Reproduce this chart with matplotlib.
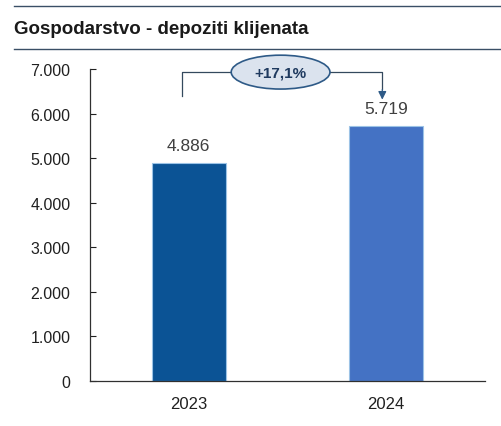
import numpy as np
import matplotlib.pyplot as plt
from matplotlib.patches import Ellipse
from matplotlib.lines import Line2D

plt.rcParams['font.family'] = ['Liberation Sans', 'DejaVu Sans']

years = ['2023', '2024']
values = [4886, 5719]
labels = ['4.886', '5.719']
growth = '+17,1%'
title = 'Gospodarstvo - depoziti klijenata'
yticks = [0, 1000, 2000, 3000, 4000, 5000, 6000, 7000]
ytick_labels = ['0', '1.000', '2.000', '3.000', '4.000', '5.000', '6.000', '7.000']
colors = ['#0b5395', '#4472c4']

fig = plt.figure(figsize=(5.01, 4.27), dpi=100)
ax = fig.add_axes([90/501, 45/427, 395/501, 312/427])

xs = np.arange(len(years))
ax.bar(xs, values, width=0.375, color=colors, edgecolor='#9cc3e6', linewidth=0.8)
for x, v, l in zip(xs, values, labels):
    ax.text(x, v + 230, l, ha='center', va='bottom', fontsize=12.5, color='#404040')

ax.set_xlim(-0.5, 1.5)
ax.set_ylim(0, 7000)
ax.set_yticks(yticks)
ax.set_yticklabels(ytick_labels)
ax.set_xticks(xs)
ax.set_xticklabels(years)
ax.tick_params(axis='y', direction='in', length=4, width=0.8, labelsize=11.5, colors='#202020', pad=14)
ax.tick_params(axis='x', length=0, labelsize=12, colors='#202020', pad=11)
ax.spines['top'].set_visible(False)
ax.spines['right'].set_visible(False)
for s in ['left', 'bottom']:
    ax.spines[s].set_color('#303030')
    ax.spines[s].set_linewidth(0.9)

# growth bracket
y_top = 6930
lc = '#34495e'
ax.plot([-0.035, -0.035, 0.98, 0.98], [6400, y_top, y_top, 6550], color=lc, lw=0.9, clip_on=False)
ax.annotate('', xy=(0.98, 6250), xytext=(0.98, 6600),
            arrowprops=dict(arrowstyle='-|>', color='#2e5a87', lw=0.9, mutation_scale=12),
            annotation_clip=False)
ell = Ellipse((0.465, y_top), width=0.5, height=760, facecolor='#dbe3ee',
              edgecolor='#2e5a87', lw=1.2, clip_on=False, zorder=5)
ax.add_patch(ell)
ax.text(0.465, y_top, growth, ha='center', va='center', fontsize=11, fontweight='bold',
        color='#1f3a5f', zorder=6)

# header
fig.add_artist(Line2D([14/501, 1], [1 - 7/427, 1 - 7/427], color='#3a4f66', lw=1.0))
fig.add_artist(Line2D([14/501, 1], [1 - 50/427, 1 - 50/427], color='#3a4f66', lw=1.0))
fig.text(14/501, 1 - 29/427, title, ha='left', va='center', fontsize=13.5, fontweight='bold',
         color='#1a1a1a')

fig.savefig('out.png', dpi=100)
